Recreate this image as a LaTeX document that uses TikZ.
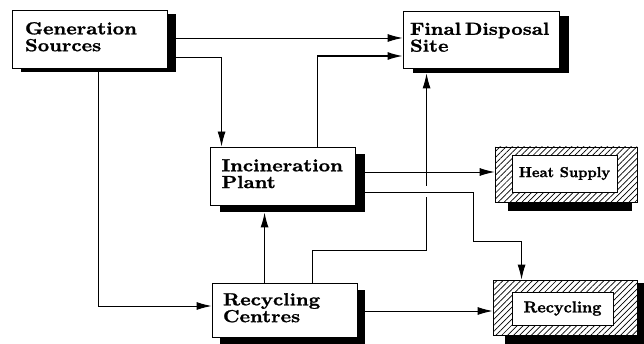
\documentclass[tikz,border=0pt]{standalone}
\usepackage{fontspec}
\usepackage{graphicx}
\newfontfamily\heavy{lmroman10-bold}[Extension=.otf, FakeBold=1.2]
\usetikzlibrary{arrows.meta,calc,shadows,patterns.meta}
\newcommand\boxtext[1]{\fontsize{17.5}{15.5}\selectfont\heavy\scalebox{1.14}[1]{\begin{tabular}{@{}l@{}}#1\end{tabular}}}
\tikzset{
  plainbox/.style={draw, line width=0.9pt, fill=white, align=left, inner ysep=0pt},
  shadowed/.style 2 args={drop shadow={shadow xshift=#1, shadow yshift=#2, fill=black, opacity=1}},
  hatchbox/.style={draw, line width=0.9pt, pattern={Lines[angle=45, distance=4.2pt, line width=0.7pt]}, inner sep=0pt},
  innerbox/.style={draw, line width=0.9pt, fill=white, inner sep=0pt},
  shadowfill/.style={fill=black},
  arr/.style={line width=0.9pt, -{Latex[length=15pt, width=8pt]}}
}
\begin{document}
\begin{tikzpicture}[x=1pt, y=-1pt]
\useasboundingbox (0,0) rectangle (644,344);

% main boxes
\node[plainbox, shadowed={9pt}{-4pt}, minimum width=155pt, minimum height=58pt,
      inner xsep=13pt, text width=129pt] (GS) at (89.5,39) {\boxtext{Generation\\Sources}};
\node[plainbox, shadowed={10pt}{-5pt}, minimum width=156pt, minimum height=57pt,
      inner xsep=7pt, text width=142pt] (FDS) at (481,39.5) {\boxtext{Final Disposal\\Site}};
\node[plainbox, shadowed={10pt}{-7pt}, minimum width=145pt, minimum height=58pt,
      inner xsep=11.5pt, text width=122pt] (IP) at (282.5,176) {\boxtext{Incineration\\Plant}};
\node[plainbox, shadowed={8pt}{-7pt}, minimum width=145pt, minimum height=54pt,
      inner xsep=11pt, text width=123pt] (RC) at (284.5,310) {\boxtext{Recycling\\Centres}};

% hatched boxes
\node[hatchbox, minimum width=142pt, minimum height=55pt] (HSo) at (566,174.5) {};
\fill[shadowfill] ($(HSo.south west)+(13,0.5)$) rectangle ($(HSo.south east)+(-5,9)$);
\node[innerbox, minimum width=105pt, minimum height=37pt] (HS) at (564.5,173.5)
      {\fontsize{14.5}{16}\selectfont\heavy Heat Supply};

\node[hatchbox, minimum width=144pt, minimum height=55pt] (RO) at (565,307.5) {};
\fill[shadowfill] ($(RO.south west)+(12,0.5)$) rectangle ($(RO.south east)+(7,9)$);
\fill[shadowfill] ($(RO.north east)+(0.5,3)$) rectangle ($(RO.south east)+(7,0.5)$);
\node[innerbox, minimum width=101pt, minimum height=33pt] (RI) at (562.5,308.5)
      {\fontsize{16}{18}\selectfont\heavy Recycling};

% connectors
\draw[arr] ($(GS.east)+(9,-1)$) -- ($(FDS.west)+(0,-1.5)$);
\draw[arr] ($(GS.east)+(9,18)$) -| ($(IP.north west)+(12,0)$);
\draw[arr] ($(GS.south west)+(87,4)$) |- ($(RC.west)+(0,-4)$);
\draw[arr, line width=1.3pt] ($(IP.north west)+(108,0)$) |- ($(FDS.west)+(0,16.5)$);
\draw[arr] ($(IP.east)+(10,-4)$) -- ($(HSo.west)+(0,-2.5)$);
\draw[arr] ($(RC.north west)+(101,0)$) |- ($(FDS.south west)+(24,182)$) -- ($(FDS.south west)+(24,5)$);
\draw[arr, preaction={draw=white, line width=11pt, arrows=-}]
  ($(IP.east)+(10,16)$) -| ($(IP.east)+(118,65)$) -| ($(RO.north west)+(29,0)$);
\draw[arr, line width=1.2pt] ($(RC.north west)+(53,0)$) -- ($(IP.south west)+(55,7)$);
\draw[arr] ($(RC.east)+(8,1)$) -- ($(RO.west)+(0,3.5)$);
\end{tikzpicture}
\end{document}
